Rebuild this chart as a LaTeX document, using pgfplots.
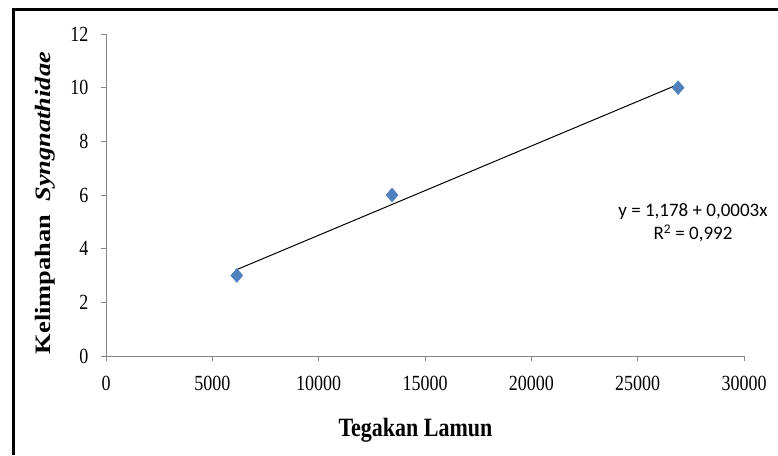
\documentclass[border=0pt]{standalone}
\usepackage{pgfplots}
\pgfplotsset{compat=1.18}
\usepackage{fontspec}
\setmainfont{Liberation Serif}
\newfontfamily\calibri{Carlito}
\definecolor{markblue}{RGB}{79,129,189}
\definecolor{axisgray}{RGB}{134,134,134}
\begin{document}
\begin{tikzpicture}[x=1pt,y=1pt]
\path[use as bounding box] (0,0) rectangle (778,455);
\fill[white] (0,0) rectangle (778,455);
\draw[line width=3pt] (13,0) -- (13,445) -- (778,445);
\begin{axis}[
  at={(106pt,99pt)}, anchor=south west, scale only axis,
  width=638pt, height=322pt,
  xmin=0, xmax=30000, ymin=0, ymax=12,
  xtick={0,5000,...,30000}, ytick={0,2,...,12},
  axis lines*=left,
  axis line style={axisgray, line width=0.8pt},
  tick style={axisgray, line width=0.8pt},
  tick align=outside, major tick length=5pt,
  scaled x ticks=false,
  /pgf/number format/assume math mode=true,
  /pgf/number format/set thousands separator={},
  xticklabel={\scalebox{1}[1.2]{\pgfmathprintnumber{\tick}}},
  yticklabel={\scalebox{1}[1.2]{\pgfmathprintnumber{\tick}}},
  xticklabel style={font=\fontsize{18}{20}\selectfont, anchor=center, yshift=-22pt},
  yticklabel style={font=\fontsize{18}{20}\selectfont, anchor=east, xshift=-9pt},
  xlabel={\scalebox{1}[1.2]{Tegakan Lamun}},
  ylabel={\scalebox{1.2}[1]{Kelimpahan\ \ \textit{Syngnathidae}}},
  xlabel style={font=\fontsize{22}{24}\selectfont\bfseries, at={(axis description cs:0.485,0)}, anchor=center, yshift=-74pt},
  ylabel style={font=\fontsize{22}{24}\selectfont\bfseries, at={(axis description cs:0,0.475)}, anchor=center, yshift=61pt},
  clip=false,
]
% trend line y = 1.178 + 0.0003x (least squares)
\addplot[black, line width=1pt] coordinates {(6150,3.22) (26900,10.12)};
\addplot[only marks, mark=diamond*, mark size=7pt, mark options={fill=markblue, draw=markblue, xscale=1.15}]
  coordinates {(6150,3) (13450,6) (26900,10)};
\node[font=\calibri\fontsize{19}{23}\selectfont, align=center] at (axis cs:27600,4.95)
  {y = 1,178 + 0,0003x\\R\textsuperscript{2} = 0,992};
\end{axis}
\end{tikzpicture}
\end{document}
